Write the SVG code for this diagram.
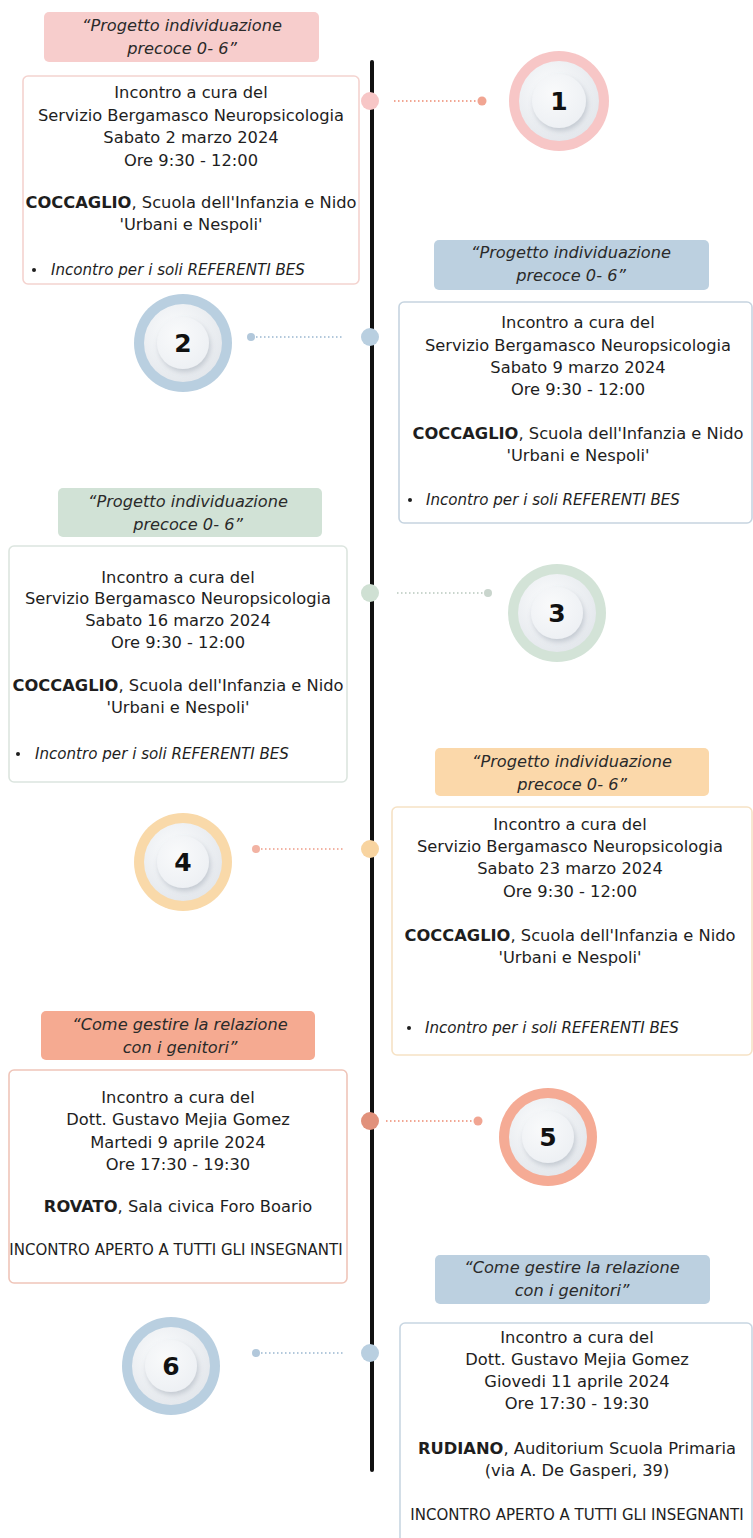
<svg xmlns="http://www.w3.org/2000/svg" width="753" height="1538" viewBox="0 0 753 1538">
<style>
.t{font-family:"DejaVu Sans","Liberation Sans",sans-serif;font-size:16.3px;fill:#1e1e1e;text-anchor:middle}
.b{font-weight:bold}
.lab{font-family:"DejaVu Sans","Liberation Sans",sans-serif;font-size:16.2px;font-style:italic;fill:#2a2a2a;text-anchor:middle}
.bul{font-family:"DejaVu Sans","Liberation Sans",sans-serif;font-size:15.1px;font-style:italic;fill:#1e1e1e}
.caps{font-family:"DejaVu Sans","Liberation Sans",sans-serif;font-size:15px;fill:#1e1e1e;text-anchor:middle}
.num{font-family:"DejaVu Sans","Liberation Sans",sans-serif;font-size:25px;font-weight:bold;fill:#111;text-anchor:middle}
.card{fill:#fff;stroke-width:1.6}
.plate{fill:url(#plate)}
.cap{fill:url(#cap);filter:url(#sh)}
.dl{stroke-width:2;stroke-dasharray:1.5 2.5;fill:none}
</style>
<defs>
<radialGradient id="plate" cx="40%" cy="35%" r="75%"><stop offset="0" stop-color="#fbfcfd"/><stop offset="1" stop-color="#e1e5ea"/></radialGradient>
<radialGradient id="cap" cx="40%" cy="35%" r="75%"><stop offset="0" stop-color="#f9fafb"/><stop offset="1" stop-color="#eceff3"/></radialGradient>
<filter id="sh" x="-40%" y="-40%" width="180%" height="180%"><feDropShadow dx="1.5" dy="3" stdDeviation="2.5" flood-color="#7d8797" flood-opacity="0.35"/></filter>
</defs>
<rect width="753" height="1538" fill="#fff"/>

<g id="timeline">
<line x1="372" y1="62" x2="372" y2="1470" stroke="#111" stroke-width="4" stroke-linecap="round"/>
</g>

<g id="connectors">
<line class="dl" x1="394" y1="101" x2="480" y2="101" stroke="#f1a592"/>
<circle cx="482" cy="101" r="4.5" fill="#f1a592"/>
<circle cx="370" cy="101" r="9" fill="#f7c6c6"/>

<line class="dl" x1="252" y1="337" x2="344" y2="337" stroke="#b2c8db"/>
<circle cx="251" cy="337" r="4" fill="#b2c8db"/>
<circle cx="370" cy="337" r="9" fill="#b9cfe0"/>

<line class="dl" x1="397" y1="593" x2="486" y2="593" stroke="#c9d5cd"/>
<circle cx="488" cy="593" r="4" fill="#c9d5cd"/>
<circle cx="370" cy="593" r="9" fill="#cfe0d3"/>

<line class="dl" x1="257" y1="849" x2="345" y2="849" stroke="#f2b3a3"/>
<circle cx="256" cy="849" r="4" fill="#f2b3a3"/>
<circle cx="370" cy="849" r="9" fill="#f8d4a0"/>

<line class="dl" x1="386" y1="1121" x2="476" y2="1121" stroke="#f1a592"/>
<circle cx="478" cy="1121" r="4.5" fill="#f1a592"/>
<circle cx="370" cy="1121" r="9" fill="#e1917b"/>

<line class="dl" x1="257" y1="1353" x2="345" y2="1353" stroke="#b2c8db"/>
<circle cx="256" cy="1353" r="4" fill="#b2c8db"/>
<circle cx="370" cy="1353" r="9" fill="#b9cfe0"/>
</g>

<g id="node1">
<rect x="44" y="12" width="275" height="50" rx="5" fill="#f7cdcc"/>
<text class="lab" x="182" y="31">“Progetto individuazione</text>
<text class="lab" x="182" y="54">precoce 0- 6”</text>
<rect class="card" x="23" y="76" width="336" height="208" rx="5" stroke="#f4d3cf"/>
<text class="t" x="191" y="98">Incontro a cura del</text>
<text class="t" x="191" y="121">Servizio Bergamasco Neuropsicologia</text>
<text class="t" x="191" y="143">Sabato 2 marzo 2024</text>
<text class="t" x="191" y="166">Ore 9:30 - 12:00</text>
<text class="t" x="191" y="208"><tspan class="b">COCCAGLIO</tspan>, Scuola dell'Infanzia e Nido</text>
<text class="t" x="191" y="230">'Urbani e Nespoli'</text>
<circle cx="34" cy="270" r="2" fill="#1e1e1e"/>
<text class="bul" x="51" y="275">Incontro per i soli REFERENTI BES</text>
<circle cx="559" cy="101" r="50" fill="#f7c6c6"/>
<circle class="plate" cx="559" cy="101" r="40"/>
<circle class="cap" cx="559" cy="101" r="27"/>
<text class="num" x="559" y="110">1</text>
</g>

<g id="node2">
<rect x="434" y="240" width="275" height="50" rx="5" fill="#bcd0e0"/>
<text class="lab" x="571" y="258">“Progetto individuazione</text>
<text class="lab" x="571" y="281">precoce 0- 6”</text>
<rect class="card" x="399" y="302" width="353" height="221" rx="5" stroke="#c6d4e0"/>
<text class="t" x="578" y="328">Incontro a cura del</text>
<text class="t" x="578" y="351">Servizio Bergamasco Neuropsicologia</text>
<text class="t" x="578" y="373">Sabato 9 marzo 2024</text>
<text class="t" x="578" y="395">Ore 9:30 - 12:00</text>
<text class="t" x="578" y="439"><tspan class="b">COCCAGLIO</tspan>, Scuola dell'Infanzia e Nido</text>
<text class="t" x="578" y="461">'Urbani e Nespoli'</text>
<circle cx="410" cy="500" r="2" fill="#1e1e1e"/>
<text class="bul" x="426" y="505">Incontro per i soli REFERENTI BES</text>
<circle cx="183" cy="343" r="49" fill="#b9cfe0"/>
<circle class="plate" cx="183" cy="343" r="39"/>
<circle class="cap" cx="183" cy="343" r="26"/>
<text class="num" x="183" y="352">2</text>
</g>

<g id="node3">
<rect x="58" y="488" width="264" height="49" rx="5" fill="#d1e2d6"/>
<text class="lab" x="188" y="507">“Progetto individuazione</text>
<text class="lab" x="188" y="530">precoce 0- 6”</text>
<rect class="card" x="9" y="546" width="338" height="236" rx="5" stroke="#dce5df"/>
<text class="t" x="178" y="583">Incontro a cura del</text>
<text class="t" x="178" y="604">Servizio Bergamasco Neuropsicologia</text>
<text class="t" x="178" y="626">Sabato 16 marzo 2024</text>
<text class="t" x="178" y="648">Ore 9:30 - 12:00</text>
<text class="t" x="178" y="691"><tspan class="b">COCCAGLIO</tspan>, Scuola dell'Infanzia e Nido</text>
<text class="t" x="178" y="713">'Urbani e Nespoli'</text>
<circle cx="18" cy="754" r="2" fill="#1e1e1e"/>
<text class="bul" x="35" y="759">Incontro per i soli REFERENTI BES</text>
<circle cx="557" cy="613" r="49" fill="#d3e3d7"/>
<circle class="plate" cx="557" cy="613" r="39"/>
<circle class="cap" cx="557" cy="613" r="26"/>
<text class="num" x="557" y="622">3</text>
</g>

<g id="node4">
<rect x="435" y="748" width="274" height="48" rx="5" fill="#fbd8aa"/>
<text class="lab" x="572" y="767">“Progetto individuazione</text>
<text class="lab" x="572" y="790">precoce 0- 6”</text>
<rect class="card" x="392" y="807" width="360" height="248" rx="5" stroke="#f6e2c5"/>
<text class="t" x="570" y="830">Incontro a cura del</text>
<text class="t" x="570" y="852">Servizio Bergamasco Neuropsicologia</text>
<text class="t" x="570" y="874">Sabato 23 marzo 2024</text>
<text class="t" x="570" y="897">Ore 9:30 - 12:00</text>
<text class="t" x="570" y="941"><tspan class="b">COCCAGLIO</tspan>, Scuola dell'Infanzia e Nido</text>
<text class="t" x="570" y="963">'Urbani e Nespoli'</text>
<circle cx="409" cy="1028" r="2" fill="#1e1e1e"/>
<text class="bul" x="425" y="1033">Incontro per i soli REFERENTI BES</text>
<circle cx="183" cy="862" r="49" fill="#f9d9a9"/>
<circle class="plate" cx="183" cy="862" r="39"/>
<circle class="cap" cx="183" cy="862" r="26"/>
<text class="num" x="183" y="871">4</text>
</g>

<g id="node5">
<rect x="41" y="1011" width="274" height="49" rx="5" fill="#f5aa91"/>
<text class="lab" x="180" y="1030">“Come gestire la relazione</text>
<text class="lab" x="180" y="1053">con i genitori”</text>
<rect class="card" x="9" y="1070" width="338" height="213" rx="5" stroke="#efc5b9"/>
<text class="t" x="178" y="1103">Incontro a cura del</text>
<text class="t" x="178" y="1125">Dott. Gustavo Mejia Gomez</text>
<text class="t" x="178" y="1148">Martedi 9 aprile 2024</text>
<text class="t" x="178" y="1170">Ore 17:30 - 19:30</text>
<text class="t" x="178" y="1212"><tspan class="b">ROVATO</tspan>, Sala civica Foro Boario</text>
<text class="caps" x="176" y="1255">INCONTRO APERTO A TUTTI GLI INSEGNANTI</text>
<circle cx="548" cy="1137" r="49" fill="#f5ab95"/>
<circle class="plate" cx="548" cy="1137" r="39"/>
<circle class="cap" cx="548" cy="1137" r="26"/>
<text class="num" x="548" y="1146">5</text>
</g>

<g id="node6">
<rect x="435" y="1255" width="275" height="49" rx="5" fill="#bcd0e0"/>
<text class="lab" x="572" y="1273">“Come gestire la relazione</text>
<text class="lab" x="572" y="1296">con i genitori”</text>
<rect class="card" x="400" y="1323" width="352" height="220" rx="5" stroke="#c8d6e2"/>
<text class="t" x="577" y="1343">Incontro a cura del</text>
<text class="t" x="577" y="1365">Dott. Gustavo Mejia Gomez</text>
<text class="t" x="577" y="1387">Giovedi 11 aprile 2024</text>
<text class="t" x="577" y="1409">Ore 17:30 - 19:30</text>
<text class="t" x="577" y="1454"><tspan class="b">RUDIANO</tspan>, Auditorium Scuola Primaria</text>
<text class="t" x="577" y="1476">(via A. De Gasperi, 39)</text>
<text class="caps" x="577" y="1520">INCONTRO APERTO A TUTTI GLI INSEGNANTI</text>
<circle cx="171" cy="1366" r="49" fill="#b9cfe0"/>
<circle class="plate" cx="171" cy="1366" r="39"/>
<circle class="cap" cx="171" cy="1366" r="26"/>
<text class="num" x="171" y="1375">6</text>
</g>
</svg>
